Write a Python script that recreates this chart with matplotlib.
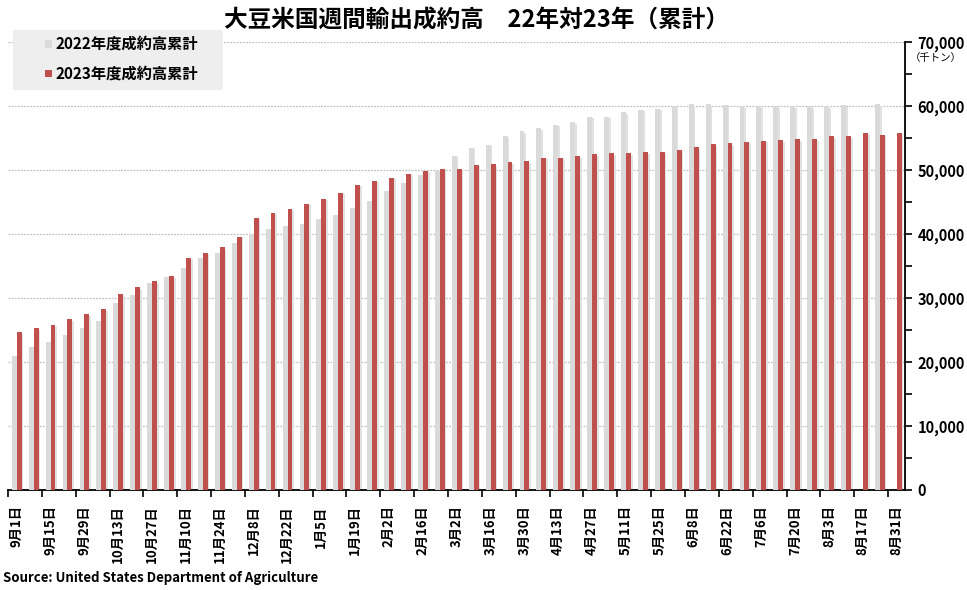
import matplotlib
matplotlib.use("Agg")
import matplotlib.pyplot as plt
from matplotlib.patches import Rectangle
from matplotlib.ticker import FixedLocator, MultipleLocator, FuncFormatter
import numpy as np

plt.rcParams['font.family'] = ['Noto Sans CJK JP', 'DejaVu Sans']

# week labels (every 2nd week shown)
week_labels = ['9月1日', '9月15日', '9月29日', '10月13日', '10月27日', '11月10日',
               '11月24日', '12月8日', '12月22日', '1月5日', '1月19日', '2月2日',
               '2月16日', '3月2日', '3月16日', '3月30日', '4月13日', '4月27日',
               '5月11日', '5月25日', '6月8日', '6月22日', '7月6日', '7月20日',
               '8月3日', '8月17日', '8月31日']

# cumulative contracts, thousand tonnes
sales_2022 = [21000, 22400, 23150, 24250, 25300, 26400, 29200, 30450, 32300, 33250,
              34650, 36200, 37100, 38650, 40050, 40850, 41300, 41600, 42400, 43000,
              44100, 45200, 46750, 48000, 49250, 49900, 52250, 53500, 53950, 55300,
              56100, 56550, 57050, 57500, 58300, 58300, 59050, 59400, 59550, 60000,
              60300, 60300, 60150, 60000, 60000, 60000, 60000, 60000, 60000, 60150,
              np.nan, 60300, np.nan]
sales_2023 = [24700, 25300, 25800, 26700, 27500, 28250, 30600, 31700, 32600, 33400,
              36300, 37100, 37900, 39600, 42550, 43350, 43950, 44750, 45500, 46450,
              47700, 48350, 48800, 49450, 49900, 50200, 50200, 50850, 50950, 51250,
              51400, 51900, 51900, 52200, 52500, 52650, 52650, 52800, 52800, 53150,
              53600, 54050, 54200, 54400, 54550, 54700, 54850, 54850, 55300, 55300,
              55800, 55500, 55800]
series_names = ['2022年度成約高累計', '2023年度成約高累計']

GRAY = '#dadada'
RED = '#c0504d'
SHADOW = '#e2e2e2'
W, H = 967, 590

n = len(sales_2023)
x = np.arange(n)
w = 0.29

fig = plt.figure(figsize=(9.67, 5.9), dpi=100)
ax = fig.add_axes([8 / W, 1 - 490 / H, 897 / W, 448 / H])

g = np.array(sales_2022, dtype=float)
r = np.array(sales_2023, dtype=float)

# soft shadows
ax.bar(x - 0.13 + 0.1, g - 250, w, color=SHADOW, zorder=2, linewidth=0)
ax.bar(x + 0.16 + 0.1, r - 250, w, color=SHADOW, zorder=2, linewidth=0)
ax.bar(x - 0.13, g, w, color=GRAY, zorder=3, linewidth=0)
ax.bar(x + 0.16, r, w, color=RED, zorder=4, linewidth=0)

ax.set_xlim(-0.5, n - 0.5)
ax.set_ylim(0, 70000)

ax.yaxis.tick_right()
ax.yaxis.set_major_locator(MultipleLocator(10000))
ax.yaxis.set_minor_locator(MultipleLocator(5000))
ax.yaxis.set_major_formatter(FuncFormatter(lambda v, p: f'{int(v):,}'))
ax.tick_params(axis='y', which='both', direction='out', length=5, width=1.2,
               labelsize=10.5, pad=4)
for t in ax.get_yticklabels():
    t.set_fontweight('bold')

ax.xaxis.set_major_locator(FixedLocator(np.arange(-0.5, n - 1, 2)))
ax.xaxis.set_major_formatter(FuncFormatter(lambda v, p: ''))
ax.xaxis.set_minor_locator(FixedLocator(np.arange(0, n, 2)))
ax.set_xticklabels(week_labels, minor=True, rotation=90, fontsize=9.5,
                   fontweight='bold')
ax.tick_params(axis='x', which='major', direction='out', length=5, width=1.2)
ax.tick_params(axis='x', which='minor', length=0, pad=11)

ax.grid(axis='y', which='major', color='#c0c0c0', linestyle=(0, (1.5, 1)),
        linewidth=0.9, zorder=0)
ax.set_axisbelow(True)

for s in ['top', 'left']:
    ax.spines[s].set_visible(False)
ax.spines['right'].set_linewidth(1.3)
ax.spines['bottom'].set_linewidth(1.3)

# legend box drawn by hand
fig.add_artist(Rectangle((13 / W, 1 - 90 / H), 210 / W, 60 / H,
                         transform=fig.transFigure, facecolor='#eeeeee',
                         edgecolor='none', zorder=5))
for i, (name, col) in enumerate(zip(series_names, [GRAY, RED])):
    cy = 44 + 29.5 * i
    fig.add_artist(Rectangle((45 / W, 1 - (cy + 3.5) / H), 7 / W, 7 / H,
                             transform=fig.transFigure, facecolor=col,
                             edgecolor='none', zorder=6))
    fig.text(56 / W, 1 - cy / H, name, ha='left', va='center', fontsize=11,
             fontweight='bold', zorder=6)

fig.text(476 / W, 1 - 21 / H, '大豆米国週間輸出成約高　22年対23年（累計）',
         ha='center', va='center', fontsize=17, fontweight='bold')
fig.text(936 / W, 1 - 58 / H, '（千トン）', ha='center', va='center',
         fontsize=7.5)
fig.text(3 / W, 1 - 578 / H, 'Source: United States Department of Agriculture',
         ha='left', va='center', fontsize=9.5, fontweight='bold')

fig.savefig('out.png', dpi=100)
